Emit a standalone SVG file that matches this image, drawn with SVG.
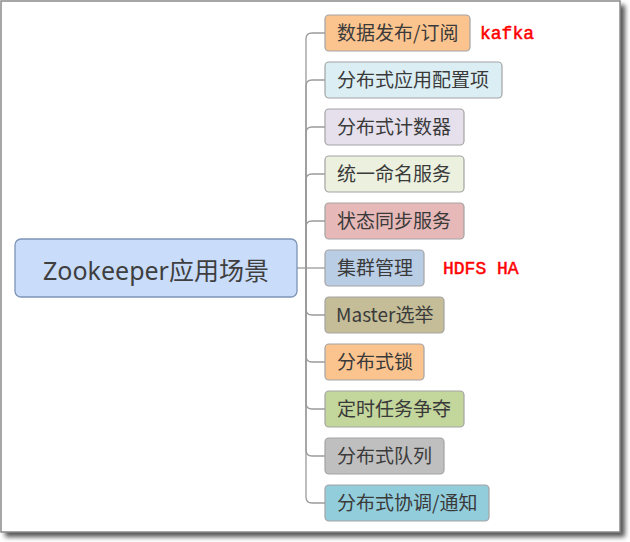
<svg xmlns="http://www.w3.org/2000/svg" width="630" height="542" viewBox="0 0 630 542">
<defs>
<filter id="sh" x="-5%" y="-5%" width="115%" height="115%"><feGaussianBlur stdDeviation="2.5"/></filter>
<style>
.nb{stroke:#a3a3a3;stroke-width:1.2}
.nt{font-family:"Noto Sans CJK SC","Noto Sans",sans-serif;font-size:19px;fill:#3a3a3a}
.rt{font-family:"Noto Sans","Noto Sans CJK SC",sans-serif;font-size:25px;fill:#3f3f3f}
.red{font-family:"Liberation Mono",monospace;font-size:18px;fill:#ff0000;stroke:#ff0000;stroke-width:0.5}
.cn{fill:none;stroke:#9b9b9b;stroke-width:1.3}
</style>
</defs>
<rect x="0" y="0" width="630" height="542" fill="#ffffff"/>
<rect x="5" y="5" width="620" height="532" fill="#555" filter="url(#sh)"/>
<rect x="1" y="1" width="619" height="531" fill="#ffffff" stroke="#8a8a8a" stroke-width="1.5"/>
<g id="connectors">
<path class="cn" d="M297,268 H325"/>
<path class="cn" d="M306,268 V39 Q306,33 312,33 H325"/>
<path class="cn" d="M306,268 V86 Q306,80 312,80 H325"/>
<path class="cn" d="M306,268 V133 Q306,127 312,127 H325"/>
<path class="cn" d="M306,268 V180 Q306,174 312,174 H325"/>
<path class="cn" d="M306,268 V227 Q306,221 312,221 H325"/>
<path class="cn" d="M306,268 V309 Q306,315 312,315 H325"/>
<path class="cn" d="M306,268 V356 Q306,362 312,362 H325"/>
<path class="cn" d="M306,268 V403 Q306,409 312,409 H325"/>
<path class="cn" d="M306,268 V450 Q306,456 312,456 H325"/>
<path class="cn" d="M306,268 V497 Q306,503 312,503 H325"/>
</g>
<g id="root">
<rect x="15" y="239" width="282" height="58" rx="6" fill="#c9dcfa" stroke="#7d94b8" stroke-width="1.3"/>
<text class="rt" x="156" y="280" text-anchor="middle">Zookeeper应用场景</text>
</g>
<g id="n1"><rect class="nb" x="325" y="15" width="145" height="36" rx="4" fill="#fbc48f"/><text class="nt" x="337" y="40">数据发布/订阅</text></g>
<g id="n2"><rect class="nb" x="325" y="62" width="177" height="36" rx="4" fill="#dbeef4"/><text class="nt" x="337" y="87">分布式应用配置项</text></g>
<g id="n3"><rect class="nb" x="325" y="109" width="139" height="36" rx="4" fill="#e5e0ec"/><text class="nt" x="337" y="134">分布式计数器</text></g>
<g id="n4"><rect class="nb" x="325" y="156" width="139" height="36" rx="4" fill="#ebf1de"/><text class="nt" x="337" y="181">统一命名服务</text></g>
<g id="n5"><rect class="nb" x="325" y="203" width="139" height="36" rx="4" fill="#e6b8b7"/><text class="nt" x="337" y="228">状态同步服务</text></g>
<g id="n6"><rect class="nb" x="325" y="250" width="99" height="36" rx="4" fill="#b9cde5"/><text class="nt" x="337" y="275">集群管理</text></g>
<g id="n7"><rect class="nb" x="325" y="297" width="119" height="36" rx="4" fill="#c4bd97"/><text class="nt" x="336" y="322">Master选举</text></g>
<g id="n8"><rect class="nb" x="325" y="344" width="99" height="36" rx="4" fill="#fbc48f"/><text class="nt" x="337" y="369">分布式锁</text></g>
<g id="n9"><rect class="nb" x="325" y="391" width="139" height="36" rx="4" fill="#c3d69b"/><text class="nt" x="337" y="416">定时任务争夺</text></g>
<g id="n10"><rect class="nb" x="325" y="438" width="119" height="36" rx="4" fill="#bfbfbf"/><text class="nt" x="337" y="463">分布式队列</text></g>
<g id="n11"><rect class="nb" x="325" y="485" width="164" height="36" rx="4" fill="#92cddc"/><text class="nt" x="337" y="510">分布式协调/通知</text></g>
<text class="red" x="480" y="39">kafka</text>
<text class="red" x="443" y="274">HDFS HA</text>
</svg>
